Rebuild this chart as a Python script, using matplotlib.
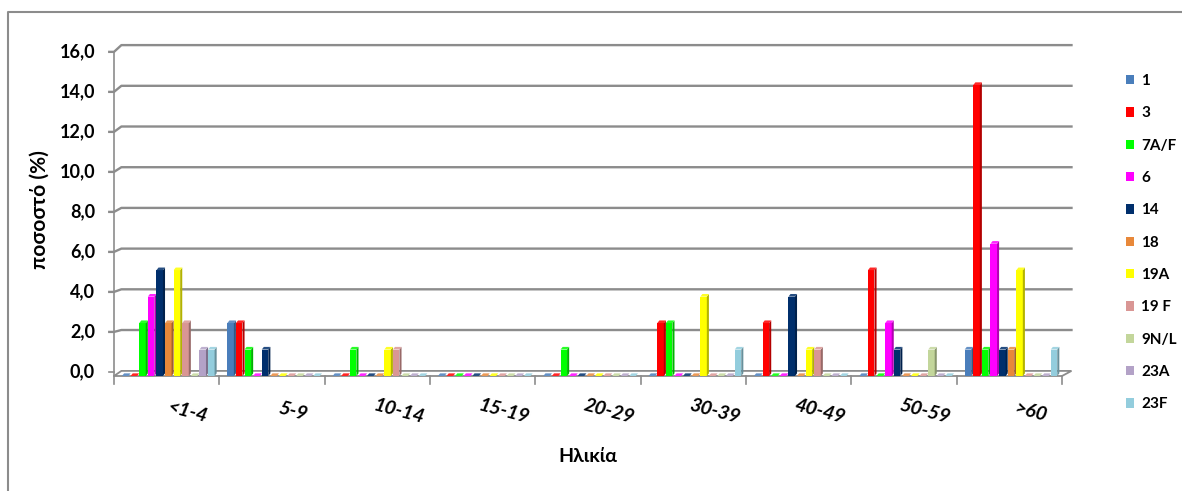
import numpy as np
import matplotlib
matplotlib.use('Agg')
import matplotlib.pyplot as plt
from matplotlib.patches import Patch
from matplotlib.lines import Line2D
from matplotlib.colors import to_rgb

plt.rcParams['font.family'] = ['Lato', 'Noto Sans', 'DejaVu Sans']

# ηλικιακές ομάδες και ορότυποι
ages = ['<1-4', '5-9', '10-14', '15-19', '20-29', '30-39', '40-49', '50-59', '>60']
serotypes = ['1', '3', '7A/F', '6', '14', '18', '19A', '19 F', '9N/L', '23A', '23F']
colors = ['#4a7ebb', '#ff0000', '#00ff00', '#ff00ff', '#002f6c', '#e8883a',
          '#ffff00', '#d99694', '#c3d69b', '#b3a2c7', '#93cddd']

# ποσοστό (%) ανά ορότυπο για κάθε ηλικιακή ομάδα
s_1   = [0.0, 2.6, 0.0, 0.0, 0.0, 0.0, 0.0, 0.0, 1.3]
s_3   = [0.0, 2.6, 0.0, 0.0, 0.0, 2.6, 2.6, 5.2, 14.3]
s_7AF = [2.6, 1.3, 1.3, 0.0, 1.3, 2.6, 0.0, 0.0, 1.3]
s_6   = [3.9, 0.0, 0.0, 0.0, 0.0, 0.0, 0.0, 2.6, 6.5]
s_14  = [5.2, 1.3, 0.0, 0.0, 0.0, 0.0, 3.9, 1.3, 1.3]
s_18  = [2.6, 0.0, 0.0, 0.0, 0.0, 0.0, 0.0, 0.0, 1.3]
s_19A = [5.2, 0.0, 1.3, 0.0, 0.0, 3.9, 1.3, 0.0, 5.2]
s_19F = [2.6, 0.0, 1.3, 0.0, 0.0, 0.0, 1.3, 0.0, 0.0]
s_9NL = [0.0, 0.0, 0.0, 0.0, 0.0, 0.0, 0.0, 1.3, 0.0]
s_23A = [1.3, 0.0, 0.0, 0.0, 0.0, 0.0, 0.0, 0.0, 0.0]
s_23F = [1.3, 0.0, 0.0, 0.0, 0.0, 1.3, 0.0, 0.0, 1.3]
series = [s_1, s_3, s_7AF, s_6, s_14, s_18, s_19A, s_19F, s_9NL, s_23A, s_23F]

yticks = [0, 2, 4, 6, 8, 10, 12, 14, 16]

W, H = 1182, 491
fig = plt.figure(figsize=(W / 100, H / 100), dpi=100)
ax = fig.add_axes([114 / W, 115 / H, 948 / W, 325.6 / H])
ax.set_xlim(-0.5, 8.5)
ax.set_ylim(0, 16)
ax.axis('off')

grey = '#8c8c8c'
n = len(ages)
x = np.arange(n)

# "βάθος" του τρισδιάστατου τοίχου / δαπέδου
wall_dx, wall_dy = 0.07, 0.25
x_end = n - 0.5 + 0.09

# δάπεδο
floor_x = [-0.5, n - 0.5, x_end, -0.5 + wall_dx]
floor_y = [0, 0, wall_dy, wall_dy]
ax.fill(floor_x, floor_y, facecolor='white', edgecolor=grey, lw=1.3, zorder=2, clip_on=False)

# γραμμές πλέγματος στον πίσω τοίχο + ετικέτες άξονα y
for v in yticks:
    ty = v * 0.983 + 0.2
    gy = v + 0.26
    if v > 0:
        ax.plot([-0.545, -0.5, -0.5 + wall_dx, x_end], [ty, ty, gy, gy],
                color=grey, lw=1.7, zorder=1, clip_on=False)
    else:
        ax.plot([-0.545, -0.5], [ty, ty], color=grey, lw=1.2, zorder=1, clip_on=False)
    ax.text(-0.68, ty, f'{v:.1f}'.replace('.', ','), ha='right', va='center',
            fontsize=13, fontweight='bold')
ax.plot([-0.5, -0.5], [0, 16 * 0.983 + 0.2], color=grey, lw=1.2, zorder=1, clip_on=False)

# υποδιαιρέσεις άξονα x
for b in np.arange(-0.5, n, 1.0):
    ax.plot([b, b], [0, -0.38], color=grey, lw=1.2, clip_on=False, zorder=2)

# στήλες με ψευδο-3Δ όψη
pitch = 0.0817
fw = 0.062
sd, sdy = pitch - fw, 0.13
first = -0.424
for i, (vals, col) in enumerate(zip(series, colors)):
    rgb = np.array(to_rgb(col))
    side = rgb * 0.7
    top = rgb * 0.85 + 0.15
    x0 = x + first + i * pitch
    ax.bar(x0, vals, width=fw, align='edge', color=col, zorder=3, clip_on=False)
    for xx, v in zip(x0, vals):
        ax.fill([xx + fw, xx + fw + sd, xx + fw + sd, xx + fw],
                [0, sdy, v + sdy, v], color=side, lw=0, zorder=3, clip_on=False)
        ax.fill([xx, xx + fw, xx + fw + sd, xx + sd],
                [v, v, v + sdy, v + sdy], color=top, lw=0, zorder=3, clip_on=False)

# ετικέτες κατηγοριών (πλάγιες)
for xi, lab in zip(x, ages):
    ax.text(xi + 0.2, -1.75, lab, rotation=-15, ha='center', va='center',
            fontsize=14, fontweight='bold', fontstyle='italic', clip_on=False)

fig.text(588 / W, 1 - 457 / H, 'Ηλικία', ha='center', va='center',
         fontsize=14, fontweight='bold')
fig.text(40 / W, 1 - 210 / H, 'ποσοστό (%)', ha='center', va='center',
         rotation=90, fontsize=15, fontweight='bold')

# υπόμνημα
handles = [Patch(facecolor=c, edgecolor='none') for c in colors]
fig.legend(handles, serotypes, loc='upper left', bbox_to_anchor=(1126 / W, 1 - 74 / H),
           frameon=False, prop={'weight': 'bold', 'size': 11},
           handlelength=0.55, handleheight=0.55, handletextpad=0.45,
           labelspacing=1.2, borderpad=0, borderaxespad=0)

# περίγραμμα γραφήματος
fig.add_artist(Line2D([8 / W, 8 / W, 1.01], [-0.01, 1 - 12 / H, 1 - 12 / H],
                      transform=fig.transFigure, color=grey, lw=1.5))

fig.savefig('out.png', dpi=100)
